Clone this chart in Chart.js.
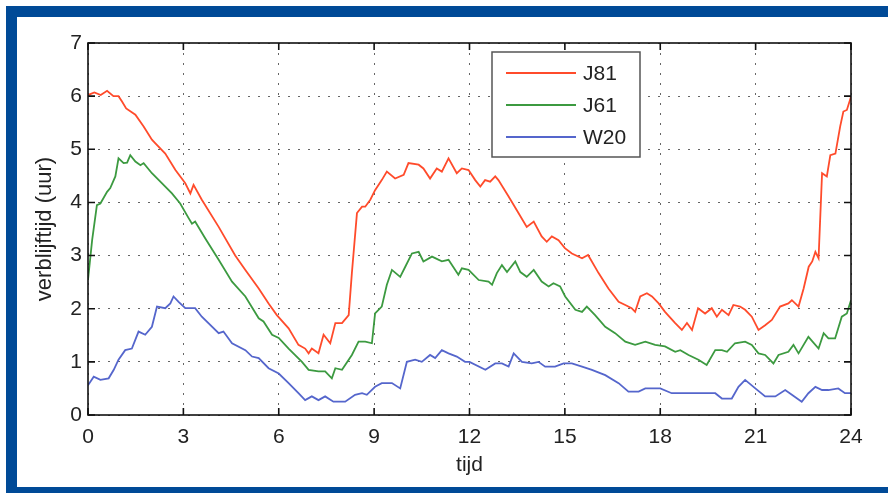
<!DOCTYPE html>
<html>
<head>
<meta charset="utf-8">
<script src="https://cdn.jsdelivr.net/npm/chart.js@4.4.1/dist/chart.umd.min.js"></script>
<style>
  html,body{margin:0;padding:0;background:#fff;overflow:hidden;width:888px;height:493px;}
  #frame{position:absolute;left:6px;top:6px;width:940px;height:492px;box-sizing:border-box;border:11px solid #004a97;}
  #c{position:absolute;left:0;top:0;}
</style>
</head>
<body>
<div id="frame"></div>
<canvas id="c" width="888" height="493"></canvas>
<script>
// values (hour, verblijftijd in uur)
const j81Hours  = [0,0.2,0.4,0.6,0.8,0.96,1.07,1.2,1.49,1.75,2.01,2.12,2.43,2.75,3.06,3.22,3.32,3.58,4.11,4.63,4.95,5.37,5.68,5.94,6.31,6.62,6.83,6.94,7.04,7.25,7.41,7.62,7.78,7.99,8.2,8.3,8.46,8.62,8.72,8.88,9.03,9.24,9.4,9.66,9.93,10.08,10.4,10.55,10.76,10.97,11.13,11.34,11.6,11.76,11.97,12.18,12.34,12.49,12.65,12.81,12.91,13.23,13.54,13.8,14.02,14.27,14.43,14.59,14.8,15.0,15.22,15.54,15.73,16.06,16.37,16.69,16.9,17.1,17.21,17.37,17.58,17.74,17.95,18.15,18.47,18.68,18.84,19.0,19.19,19.41,19.62,19.78,19.94,20.15,20.3,20.51,20.67,20.88,21.09,21.3,21.51,21.77,22.03,22.14,22.35,22.51,22.67,22.78,22.88,22.98,23.09,23.24,23.35,23.51,23.66,23.76,23.87,24.0];
const j81Values = [6.02,6.07,6.02,6.1,6.0,6.0,5.9,5.77,5.65,5.43,5.18,5.11,4.92,4.61,4.36,4.17,4.33,4.05,3.54,3.0,2.73,2.38,2.1,1.88,1.63,1.32,1.25,1.16,1.25,1.16,1.51,1.35,1.73,1.73,1.88,2.67,3.8,3.92,3.92,4.05,4.23,4.42,4.58,4.45,4.52,4.74,4.71,4.64,4.45,4.64,4.58,4.83,4.55,4.64,4.61,4.42,4.3,4.42,4.39,4.49,4.42,4.11,3.8,3.54,3.64,3.36,3.26,3.36,3.29,3.14,3.04,2.95,3.01,2.67,2.38,2.13,2.07,2.01,1.94,2.23,2.29,2.23,2.1,1.94,1.73,1.6,1.73,1.6,2.01,1.91,2.01,1.85,1.98,1.88,2.07,2.04,1.98,1.85,1.6,1.69,1.79,2.04,2.1,2.16,2.04,2.38,2.79,2.89,3.07,2.95,4.55,4.49,4.89,4.92,5.43,5.71,5.74,5.99];

const j61Hours  = [0,0.13,0.28,0.39,0.6,0.7,0.86,0.96,1.12,1.23,1.33,1.49,1.65,1.75,2.01,2.33,2.64,2.9,3.17,3.27,3.37,3.69,4.11,4.53,4.95,5.37,5.52,5.79,6.0,6.31,6.73,6.94,7.25,7.46,7.67,7.78,7.99,8.3,8.51,8.72,8.93,9.03,9.24,9.4,9.56,9.82,9.98,10.19,10.4,10.55,10.82,11.13,11.34,11.65,11.76,11.97,12.29,12.6,12.71,12.86,13.02,13.18,13.44,13.6,13.8,14.02,14.27,14.49,14.64,14.85,15.01,15.33,15.54,15.69,15.95,16.27,16.58,16.9,17.21,17.53,17.84,18.15,18.47,18.63,18.89,19.2,19.46,19.73,19.94,20.1,20.35,20.67,20.88,21.09,21.3,21.56,21.72,22.03,22.19,22.35,22.66,22.98,23.14,23.29,23.5,23.71,23.87,24.0];
const j61Values = [2.54,3.29,3.95,3.98,4.2,4.27,4.49,4.83,4.74,4.75,4.89,4.77,4.7,4.74,4.55,4.36,4.17,3.98,3.7,3.6,3.64,3.32,2.92,2.51,2.23,1.82,1.76,1.51,1.45,1.25,1.0,0.85,0.82,0.82,0.69,0.88,0.85,1.13,1.38,1.38,1.35,1.91,2.04,2.45,2.73,2.6,2.79,3.04,3.07,2.89,2.98,2.89,2.92,2.64,2.76,2.73,2.54,2.51,2.45,2.67,2.82,2.69,2.89,2.69,2.6,2.73,2.51,2.42,2.48,2.42,2.23,1.98,1.94,2.04,1.88,1.66,1.54,1.38,1.32,1.38,1.32,1.29,1.19,1.22,1.13,1.04,0.94,1.22,1.22,1.19,1.35,1.38,1.32,1.16,1.13,0.97,1.13,1.19,1.32,1.16,1.47,1.25,1.54,1.44,1.44,1.85,1.91,2.16];

const w20Hours  = [0,0.18,0.39,0.65,0.81,0.96,1.17,1.38,1.59,1.8,2.01,2.17,2.43,2.59,2.69,2.85,3.06,3.37,3.58,4.11,4.26,4.53,4.95,5.16,5.37,5.68,6.0,6.31,6.62,6.83,7.04,7.25,7.46,7.72,8.09,8.4,8.62,8.77,9.03,9.24,9.56,9.82,10.03,10.29,10.5,10.76,10.92,11.13,11.34,11.6,11.86,12.0,12.5,12.81,13.02,13.23,13.39,13.65,13.96,14.17,14.38,14.69,14.96,15.22,15.54,15.85,16.27,16.69,17.0,17.32,17.53,18.0,18.36,19.73,19.94,20.25,20.46,20.67,20.99,21.3,21.62,21.93,22.14,22.45,22.66,22.88,23.09,23.29,23.6,23.81,24.0];
const w20Values = [0.56,0.72,0.66,0.69,0.85,1.04,1.22,1.25,1.57,1.51,1.66,2.04,2.01,2.1,2.23,2.13,2.01,2.01,1.85,1.54,1.57,1.35,1.22,1.1,1.07,0.88,0.78,0.6,0.41,0.28,0.35,0.28,0.35,0.25,0.25,0.38,0.41,0.38,0.53,0.6,0.6,0.5,1.0,1.04,1.0,1.13,1.07,1.22,1.16,1.1,1.0,1.0,0.85,0.97,0.97,0.91,1.16,1.0,0.97,1.0,0.91,0.91,0.97,0.97,0.91,0.85,0.75,0.6,0.44,0.44,0.5,0.5,0.41,0.41,0.31,0.31,0.53,0.66,0.5,0.35,0.35,0.47,0.38,0.25,0.41,0.53,0.47,0.47,0.5,0.41,0.41];

const seriesNames = ['J81','J61','W20'];
const seriesColors = ['#ff4b2b','#3c9a40','#5566cc'];
const xTicks = [0,3,6,9,12,15,18,21,24];
const yTicks = [0,1,2,3,4,5,6,7];

const FONT = 'Liberation Sans, Arial, Helvetica, sans-serif';
const TXT = '#222';

function pairs(hs, vs){ return hs.map((h,i)=>({x:h, y:vs[i]})); }

// box round the plot with inward tick marks, matlab style
const boxPlugin = {
  id:'box',
  afterDatasetsDraw(chart){
    const {ctx, chartArea:a, scales:{x,y}} = chart;
    ctx.save();
    ctx.strokeStyle = '#111'; ctx.lineWidth = 1.6;
    ctx.beginPath();
    xTicks.forEach(t=>{ const px = x.getPixelForValue(t);
      ctx.moveTo(px, a.bottom); ctx.lineTo(px, a.bottom-7);
      ctx.moveTo(px, a.top); ctx.lineTo(px, a.top+7); });
    yTicks.forEach(t=>{ const py = y.getPixelForValue(t);
      ctx.moveTo(a.left, py); ctx.lineTo(a.left+7, py);
      ctx.moveTo(a.right, py); ctx.lineTo(a.right-7, py); });
    ctx.stroke();
    ctx.strokeRect(a.left, a.top, a.right-a.left, a.bottom-a.top);
    ctx.restore();
  }
};

const legendPlugin = {
  id:'boxLegend',
  afterDraw(chart){
    const ctx = chart.ctx;
    ctx.save();
    ctx.fillStyle = '#fff'; ctx.fillRect(492,52,148,105);
    ctx.strokeStyle = '#555'; ctx.lineWidth = 1.5; ctx.strokeRect(492,52,148,105);
    ctx.font = '21px ' + FONT; ctx.textBaseline = 'middle'; ctx.fillStyle = TXT;
    chart.data.datasets.forEach((ds,i)=>{
      const yy = 73 + i*32;
      ctx.strokeStyle = ds.borderColor; ctx.lineWidth = 2;
      ctx.beginPath(); ctx.moveTo(506,yy); ctx.lineTo(576,yy); ctx.stroke();
      ctx.fillText(ds.label, 583, yy+1);
    });
    ctx.restore();
  }
};

new Chart(document.getElementById('c'), {
  type:'line',
  data:{datasets:[
    {label:seriesNames[0], data:pairs(j81Hours,j81Values), borderColor:seriesColors[0]},
    {label:seriesNames[1], data:pairs(j61Hours,j61Values), borderColor:seriesColors[1]},
    {label:seriesNames[2], data:pairs(w20Hours,w20Values), borderColor:seriesColors[2]}
  ]},
  options:{
    responsive:false, animation:false,
    layout:{padding:{left:0, top:43, right:37, bottom:0}},
    elements:{point:{radius:0}, line:{borderWidth:1.8, tension:0}},
    plugins:{legend:{display:false}, tooltip:{enabled:false}},
    scales:{
      x:{type:'linear', min:0, max:24,
        afterFit(s){ s.height = 78; },
        afterBuildTicks(s){ s.ticks = xTicks.map(v=>({value:v})); },
        grid:{color:'#666', lineWidth:1, drawTicks:false},
        border:{display:false, dash:[2,8]},
        ticks:{padding:10, color:TXT, font:{family:FONT, size:21}},
        title:{display:true, text:'tijd', color:TXT, font:{family:FONT, size:21}, padding:{top:0, bottom:15}}
      },
      y:{min:0, max:7,
        afterFit(s){ s.width = 88; },
        afterBuildTicks(s){ s.ticks = yTicks.map(v=>({value:v})); },
        grid:{color:'#666', lineWidth:1, drawTicks:false},
        border:{display:false, dash:[2,8]},
        ticks:{padding:6, color:TXT, font:{family:FONT, size:21}},
        title:{display:true, text:'verblijftijd (uur)', color:TXT, font:{family:FONT, size:22}, padding:{top:32, bottom:0}}
      }
    }
  },
  plugins:[boxPlugin, legendPlugin]
});
</script>
</body>
</html>
